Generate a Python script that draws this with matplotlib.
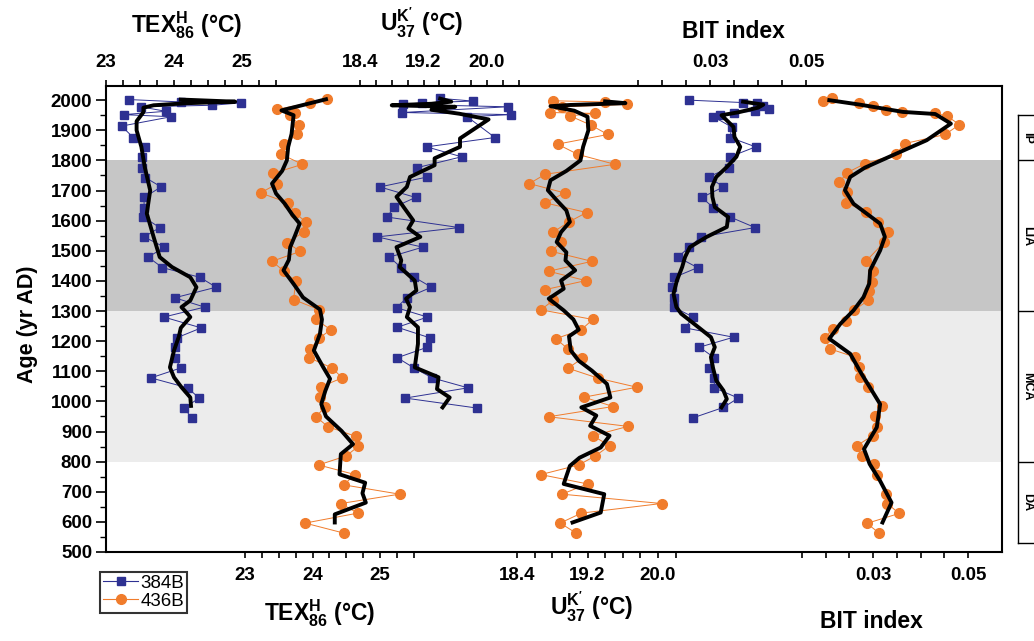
import numpy as np
import matplotlib
matplotlib.use('Agg')
import matplotlib.pyplot as plt
from matplotlib.transforms import blended_transform_factory

plt.rcParams['font.family'] = ['Liberation Sans', 'DejaVu Sans']
plt.rcParams['mathtext.fontset'] = 'custom'
plt.rcParams['mathtext.rm'] = 'Liberation Sans:bold'
plt.rcParams['mathtext.bf'] = 'Liberation Sans:bold'
plt.rcParams['mathtext.it'] = 'Liberation Sans:bold'

# ---------------- data (ages in yr AD) ----------------
# TEX86H, core 384B
tex_384_age = [2002, 1994, 1991, 1983, 1978, 1963, 1952, 1945, 1914, 1876, 1845, 1812, 1776, 1743, 1712,
               1677, 1643, 1612, 1577, 1546, 1512, 1479, 1444, 1412, 1379, 1344, 1313, 1280, 1244, 1211,
               1180, 1145, 1111, 1078, 1045, 1011, 978, 945]
tex_384_val = [23.34, 24.11, 24.99, 24.56, 23.51, 23.88, 23.26, 23.96, 23.23, 23.40, 23.58, 23.53, 23.53,
               23.58, 23.81, 23.56, 23.56, 23.55, 23.79, 23.56, 23.86, 23.62, 23.83, 24.38, 24.62, 24.01,
               24.45, 23.85, 24.40, 24.04, 24.01, 24.01, 24.10, 23.66, 24.20, 24.37, 24.15, 24.26]
tex_384_sm_age = [2002, 1995, 1990, 1983, 1975, 1960, 1945, 1930, 1900, 1845, 1778, 1700, 1624, 1546, 1479,
                  1446, 1412, 1379, 1335, 1313, 1291, 1280, 1244, 1214, 1169, 1113, 1080, 1047, 1013, 985]
tex_384_sm_val = [24.1, 24.9, 24.2, 23.7, 23.55, 23.55, 23.5, 23.45, 23.45, 23.52, 23.57, 23.65, 23.6, 23.7,
                  23.79, 23.97, 24.24, 24.33, 24.24, 24.11, 24.2, 24.24, 24.1, 24.07, 24.0, 23.94, 24.0,
                  24.11, 24.24, 24.25]

# TEX86H, core 436B
tex_436_age = [2003, 1991, 1969, 1959, 1950, 1919, 1886, 1854, 1820, 1787, 1757, 1723, 1692, 1659, 1626,
               1596, 1562, 1527, 1498, 1465, 1432, 1398, 1338, 1305, 1272, 1238, 1210, 1174, 1145, 1111,
               1078, 1049, 1016, 982, 949, 916, 884, 851, 819, 789, 757, 723, 692, 661, 629, 596, 563]
tex_436_val = [24.21, 23.96, 23.47, 23.74, 23.67, 23.80, 23.77, 23.58, 23.54, 23.85, 23.42, 23.48, 23.23,
               23.64, 23.74, 23.90, 23.87, 23.62, 23.82, 23.40, 23.58, 23.75, 23.72, 24.09, 24.05, 24.27,
               24.10, 23.97, 23.95, 24.29, 24.44, 24.13, 24.11, 24.19, 24.05, 24.23, 24.64, 24.68, 24.50,
               24.09, 24.63, 24.46, 25.29, 24.42, 24.67, 23.89, 24.46]
tex_436_sm_age = [2003, 1966, 1950, 1888, 1845, 1800, 1765, 1723, 1690, 1656, 1620, 1590, 1550, 1512, 1470,
                  1435, 1390, 1345, 1305, 1272, 1224, 1169, 1113, 1075, 1035, 991, 950, 902, 858, 825,
                  758, 730, 695, 664, 625, 598]
tex_436_sm_val = [24.2, 23.54, 23.72, 23.69, 23.64, 23.62, 23.55, 23.40, 23.46, 23.59, 23.7, 23.81, 23.74,
                  23.67, 23.65, 23.57, 23.72, 23.86, 24.11, 24.14, 24.11, 24.02, 24.16, 24.26, 24.19, 24.13,
                  24.2, 24.43, 24.60, 24.42, 24.40, 24.78, 24.74, 24.79, 24.33, 24.33]

# UK'37, core 384B
uk_384_age = [2006, 1997, 1991, 1986, 1978, 1959, 1952, 1945, 1876, 1845, 1812, 1776, 1745, 1712, 1677,
              1645, 1612, 1577, 1546, 1512, 1479, 1444, 1413, 1379, 1344, 1311, 1280, 1246, 1211, 1180,
              1145, 1111, 1078, 1045, 1011, 978]
uk_384_val = [19.41, 19.82, 19.18, 18.94, 20.26, 18.93, 20.30, 19.75, 20.10, 19.24, 19.68, 19.12, 19.25,
              18.65, 19.10, 18.83, 18.74, 19.65, 18.62, 19.19, 18.77, 18.92, 19.08, 19.30, 18.99, 18.86,
              19.25, 18.87, 19.28, 19.25, 18.87, 19.08, 19.31, 19.76, 18.97, 19.87]
uk_384_sm_age = [2005, 1995, 1988, 1983, 1978, 1968, 1955, 1936, 1873, 1845, 1807, 1784, 1745, 1712, 1679,
                 1645, 1601, 1574, 1546, 1512, 1468, 1446, 1401, 1368, 1341, 1313, 1280, 1246, 1191, 1113,
                 1080, 1041, 1013, 980]
uk_384_sm_val = [19.41, 19.55, 19.3, 18.8, 19.6, 19.3, 19.65, 20.02, 19.66, 19.66, 19.34, 19.34, 19.03,
                 18.99, 18.86, 18.95, 19.07, 19.01, 19.16, 18.86, 18.92, 18.9, 19.09, 19.11, 18.98, 19.03,
                 18.99, 19.13, 19.13, 19.09, 19.39, 19.37, 19.53, 19.44]

# UK'37, core 436B
uk_436_age = [1998, 1994, 1986, 1978, 1959, 1956, 1948, 1917, 1886, 1854, 1820, 1787, 1754, 1723, 1692,
              1659, 1627, 1596, 1562, 1529, 1498, 1465, 1432, 1401, 1371, 1335, 1304, 1272, 1238, 1208,
              1174, 1143, 1110, 1077, 1047, 1014, 983, 949, 917, 886, 853, 819, 789, 757, 726, 692, 661,
              629, 596, 563]
uk_436_val = [18.81, 19.40, 19.65, 18.91, 18.77, 19.28, 19.00, 19.24, 19.43, 18.86, 19.09, 19.51, 18.72,
              18.54, 18.94, 18.72, 19.19, 18.99, 18.81, 18.90, 18.79, 19.25, 18.76, 19.18, 18.72, 18.81,
              18.67, 19.26, 19.13, 18.84, 18.98, 19.14, 18.98, 19.32, 19.76, 19.16, 19.49, 18.76, 19.66,
              19.26, 19.45, 19.29, 19.10, 18.67, 19.20, 18.91, 20.04, 19.13, 18.89, 19.07]
uk_436_sm_age = [1996, 1990, 1984, 1980, 1965, 1945, 1900, 1845, 1800, 1765, 1734, 1701, 1668, 1634, 1596,
                 1562, 1529, 1495, 1468, 1435, 1401, 1374, 1341, 1302, 1272, 1238, 1216, 1169, 1135, 1102,
                 1058, 1013, 980, 953, 919, 886, 847, 813, 786, 726, 692, 631, 598]
uk_436_sm_val = [19.4, 19.63, 19.0, 18.78, 19.05, 19.2, 19.21, 19.15, 19.12, 18.96, 18.78, 18.75, 18.85,
                 18.96, 19.0, 18.9, 18.85, 18.96, 18.95, 19.06, 18.9, 18.93, 18.76, 18.93, 19.04, 19.1,
                 18.99, 19.01, 19.1, 19.25, 19.42, 19.46, 19.13, 19.3, 19.23, 19.45, 19.35, 19.11, 19.0,
                 18.93, 19.39, 19.35, 19.03]

# BIT index, core 384B
bit_384_age = [2000, 1992, 1991, 1980, 1970, 1963, 1959, 1952, 1945, 1911, 1876, 1845, 1812, 1776, 1745,
               1712, 1677, 1643, 1612, 1577, 1546, 1512, 1479, 1444, 1412, 1379, 1344, 1313, 1280, 1244,
               1213, 1180, 1145, 1111, 1078, 1045, 1011, 980, 945]
bit_384_val = [0.0257, 0.0369, 0.0397, 0.0411, 0.0422, 0.0394, 0.0349, 0.0321, 0.0307, 0.0345, 0.0342,
               0.0395, 0.0342, 0.0340, 0.0297, 0.0328, 0.0283, 0.0307, 0.0342, 0.0394, 0.0281, 0.0257,
               0.0233, 0.0274, 0.0226, 0.0220, 0.0224, 0.0224, 0.0265, 0.0248, 0.0349, 0.0278, 0.0309,
               0.0298, 0.0309, 0.0309, 0.0359, 0.0328, 0.0264]
bit_384_sm_age = [1995, 1985, 1975, 1960, 1950, 1911, 1878, 1845, 1812, 1778, 1745, 1712, 1679, 1645, 1612,
                  1579, 1546, 1512, 1479, 1446, 1401, 1357, 1313, 1291, 1246, 1213, 1180, 1147, 1113, 1069,
                  1036, 1008, 980]
bit_384_sm_val = [0.0369, 0.0411, 0.0400, 0.0360, 0.0324, 0.0349, 0.0351, 0.0363, 0.0355, 0.0335, 0.0313,
                  0.0304, 0.0305, 0.0310, 0.0338, 0.0335, 0.0293, 0.0258, 0.0248, 0.0242, 0.0231, 0.0224,
                  0.0230, 0.0240, 0.0276, 0.0302, 0.0310, 0.0302, 0.0306, 0.0313, 0.0328, 0.0335, 0.0324]

# BIT index, core 436B
bit_436_age = [2006, 1997, 1989, 1981, 1967, 1961, 1956, 1948, 1919, 1886, 1856, 1820, 1789, 1759, 1727,
               1695, 1660, 1629, 1596, 1562, 1529, 1465, 1432, 1396, 1368, 1335, 1302, 1268, 1241, 1210,
               1174, 1147, 1113, 1080, 1049, 986, 952, 916, 886, 853, 819, 792, 756, 692, 661, 628, 595, 563]
bit_436_val = [0.0213, 0.0194, 0.0271, 0.0299, 0.0327, 0.0362, 0.0431, 0.0455, 0.0482, 0.0452, 0.0367,
               0.0348, 0.0283, 0.0245, 0.0229, 0.0245, 0.0243, 0.0285, 0.0311, 0.0331, 0.0324, 0.0285,
               0.0299, 0.0297, 0.0292, 0.0290, 0.0259, 0.0243, 0.0215, 0.0199, 0.0210, 0.0262, 0.0271,
               0.0273, 0.0289, 0.0318, 0.0304, 0.0309, 0.0299, 0.0266, 0.0276, 0.0302, 0.0309, 0.0327,
               0.0330, 0.0355, 0.0287, 0.0313]
bit_436_sm_age = [2000, 1985, 1961, 1954, 1922, 1867, 1828, 1776, 1745, 1701, 1656, 1623, 1590, 1546, 1501,
                  1435, 1391, 1346, 1302, 1257, 1208, 1158, 1091, 1058, 991, 914, 842, 792, 736, 664, 598]
bit_436_sm_val = [0.0208, 0.0273, 0.0363, 0.0431, 0.0464, 0.0413, 0.0357, 0.0283, 0.0252, 0.0241, 0.0259,
                  0.0287, 0.0315, 0.0325, 0.0315, 0.0294, 0.0292, 0.0280, 0.0259, 0.0231, 0.0208, 0.0252,
                  0.0276, 0.0289, 0.0315, 0.0308, 0.0281, 0.0293, 0.0315, 0.0339, 0.0320]

# climate periods
period_names = ['IP', 'LIA', 'MCA', 'DA']
period_edges = [1950, 1800, 1300, 800, 530]

# ---------------- figure ----------------
W, H = 1034, 641
fig = plt.figure(figsize=(W / 100, H / 100), dpi=100)
L, R, T, B = 106, 1002, 86, 552
pos = [L / W, 1 - B / H, (R - L) / W, (B - T) / H]

ax0 = fig.add_axes(pos)
ax0.set_ylim(500, 2047)
ax0.set_xlim(0, 1)
ax0.set_xticks([])
ax0.axhspan(period_edges[2], period_edges[1], color='#c6c6c6', lw=0, zorder=0)
ax0.axhspan(period_edges[3], period_edges[2], color='#ececec', lw=0, zorder=0)
ax0.set_yticks(np.arange(500, 2001, 100))
ax0.set_yticks(np.arange(550, 2001, 100), minor=True)
ax0.tick_params(axis='y', which='major', length=7, width=1.2, labelsize=13.5, pad=3)
ax0.tick_params(axis='y', which='minor', length=4, width=1)
for lab in ax0.get_yticklabels():
    lab.set_fontweight('bold')
for s in ax0.spines.values():
    s.set_linewidth(1.5)

blue = '#2e3192'
orange = '#f07c2c'


def overlay(lo, hi, side, majors, labels, minors):
    ax = fig.add_axes(pos, sharey=ax0)
    ax.patch.set_visible(False)
    for s in ax.spines.values():
        s.set_visible(False)
    ax.set_xlim(lo, hi)
    ax.yaxis.set_visible(False)
    ax.xaxis.set_ticks_position(side)
    ax.set_xticks(majors)
    ax.set_xticklabels(labels, fontweight='bold')
    ax.set_xticks(minors, minor=True)
    ax.tick_params(axis='x', which='both', direction='out', length=4, width=1.2,
                   labelsize=13.5, pad=7)
    return ax


def xrange_for(v1, p1, v2, p2):
    s = (p2 - p1) / (v2 - v1)
    lo = v1 - (p1 - L) / s
    return lo, lo + (R - L) / s


def draw(ax, age, val, sm_age, sm_val, col, mk, ms):
    ax.plot(val, age, color=col, lw=0.7, marker=mk, ms=ms, mec=col, mfc=col, zorder=2)
    ax.plot(sm_val, sm_age, color='black', lw=2.8, zorder=3)


# TEX86H axes
a1 = overlay(*xrange_for(23, 106, 25, 242), 'top', [23, 24, 25], ['23', '24', '25'],
             np.arange(23.25, 25.6, 0.25))
draw(a1, tex_384_age, tex_384_val, tex_384_sm_age, tex_384_sm_val, blue, 's', 5.5)
a2 = overlay(*xrange_for(23, 245, 25, 380), 'bottom', [23, 24, 25], ['23', '24', '25'],
             np.arange(23.25, 25.6, 0.25))
draw(a2, tex_436_age, tex_436_val, tex_436_sm_age, tex_436_sm_val, orange, 'o', 7)

# UK'37 axes
a3 = overlay(*xrange_for(18.4, 360, 20.0, 487), 'top', [18.4, 19.2, 20.0], ['18.4', '19.2', '20.0'],
             np.arange(18.6, 20.45, 0.2))
draw(a3, uk_384_age, uk_384_val, uk_384_sm_age, uk_384_sm_val, blue, 's', 5.5)
a4 = overlay(*xrange_for(18.4, 517, 20.0, 658), 'bottom', [18.4, 19.2, 20.0], ['18.4', '19.2', '20.0'],
             np.arange(18.6, 20.25, 0.2))
draw(a4, uk_436_age, uk_436_val, uk_436_sm_age, uk_436_sm_val, orange, 'o', 7)

# BIT axes
a5 = overlay(*xrange_for(0.03, 710, 0.05, 806), 'top', [0.03, 0.05], ['0.03', '0.05'],
             [0.015, 0.02, 0.025, 0.035, 0.04, 0.045])
draw(a5, bit_384_age, bit_384_val, bit_384_sm_age, bit_384_sm_val, blue, 's', 5.5)
a6 = overlay(*xrange_for(0.03, 873, 0.05, 968), 'bottom', [0.03, 0.05], ['0.03', '0.05'],
             [0.015, 0.02, 0.025, 0.035, 0.04, 0.045])
draw(a6, bit_436_age, bit_436_val, bit_436_sm_age, bit_436_sm_val, orange, 'o', 7)

# axis titles
tex_lab = r'TEX$^{\mathbf{H}}_{\mathbf{86}}$ (°C)'
uk_lab = r"U$^{\mathbf{K'}}_{\mathbf{37}}$ (°C)"
titles = [(187, 32, tex_lab), (422, 32, uk_lab), (733, 38, 'BIT index'),
          (320, 620, tex_lab), (592, 615, uk_lab), (871, 628, 'BIT index')]
for x, y, t in titles:
    fig.text(x / W, 1 - y / H, t, ha='center', va='baseline', fontsize=16.5, fontweight='bold')

fig.text(27 / W, 1 - 324 / H, 'Age (yr AD)', rotation=90, ha='center', va='center',
         fontsize=15.5, fontweight='bold')

# legend
h1, = a1.plot([], [], color=blue, marker='s', ms=5.5, lw=0.8)
h2, = a2.plot([], [], color=orange, marker='o', ms=7, lw=0.8)
leg = fig.legend([h1, h2], ['384B', '436B'], loc='upper left',
                 bbox_to_anchor=(100 / W, 1 - 572 / H), fontsize=13.5, frameon=True,
                 fancybox=False, edgecolor='black', handlelength=1.9, handletextpad=0.1,
                 borderpad=0.15, labelspacing=0.05, borderaxespad=0)
leg.get_frame().set_linewidth(1.5)

# period column at the right
ty, by = 100 + (2000 - period_edges[0]) * 0.30133, 100 + (2000 - period_edges[-1]) * 0.30133
ap = fig.add_axes([1018 / W, 1 - by / H, 60 / W, (by - ty) / H])
ap.set_ylim(period_edges[-1], period_edges[0])
ap.set_xlim(0, 1)
ap.set_xticks([])
ap.set_yticks([])
for s in ap.spines.values():
    s.set_linewidth(1)
for e in period_edges[1:-1]:
    ap.axhline(e, color='black', lw=1)
for i, name in enumerate(period_names):
    mid = (period_edges[i] + period_edges[i + 1]) / 2
    ap.text(0.15, mid, name, rotation=-90, ha='center', va='center', fontsize=9,
            fontweight='bold')

fig.savefig('out.png', dpi=100)
